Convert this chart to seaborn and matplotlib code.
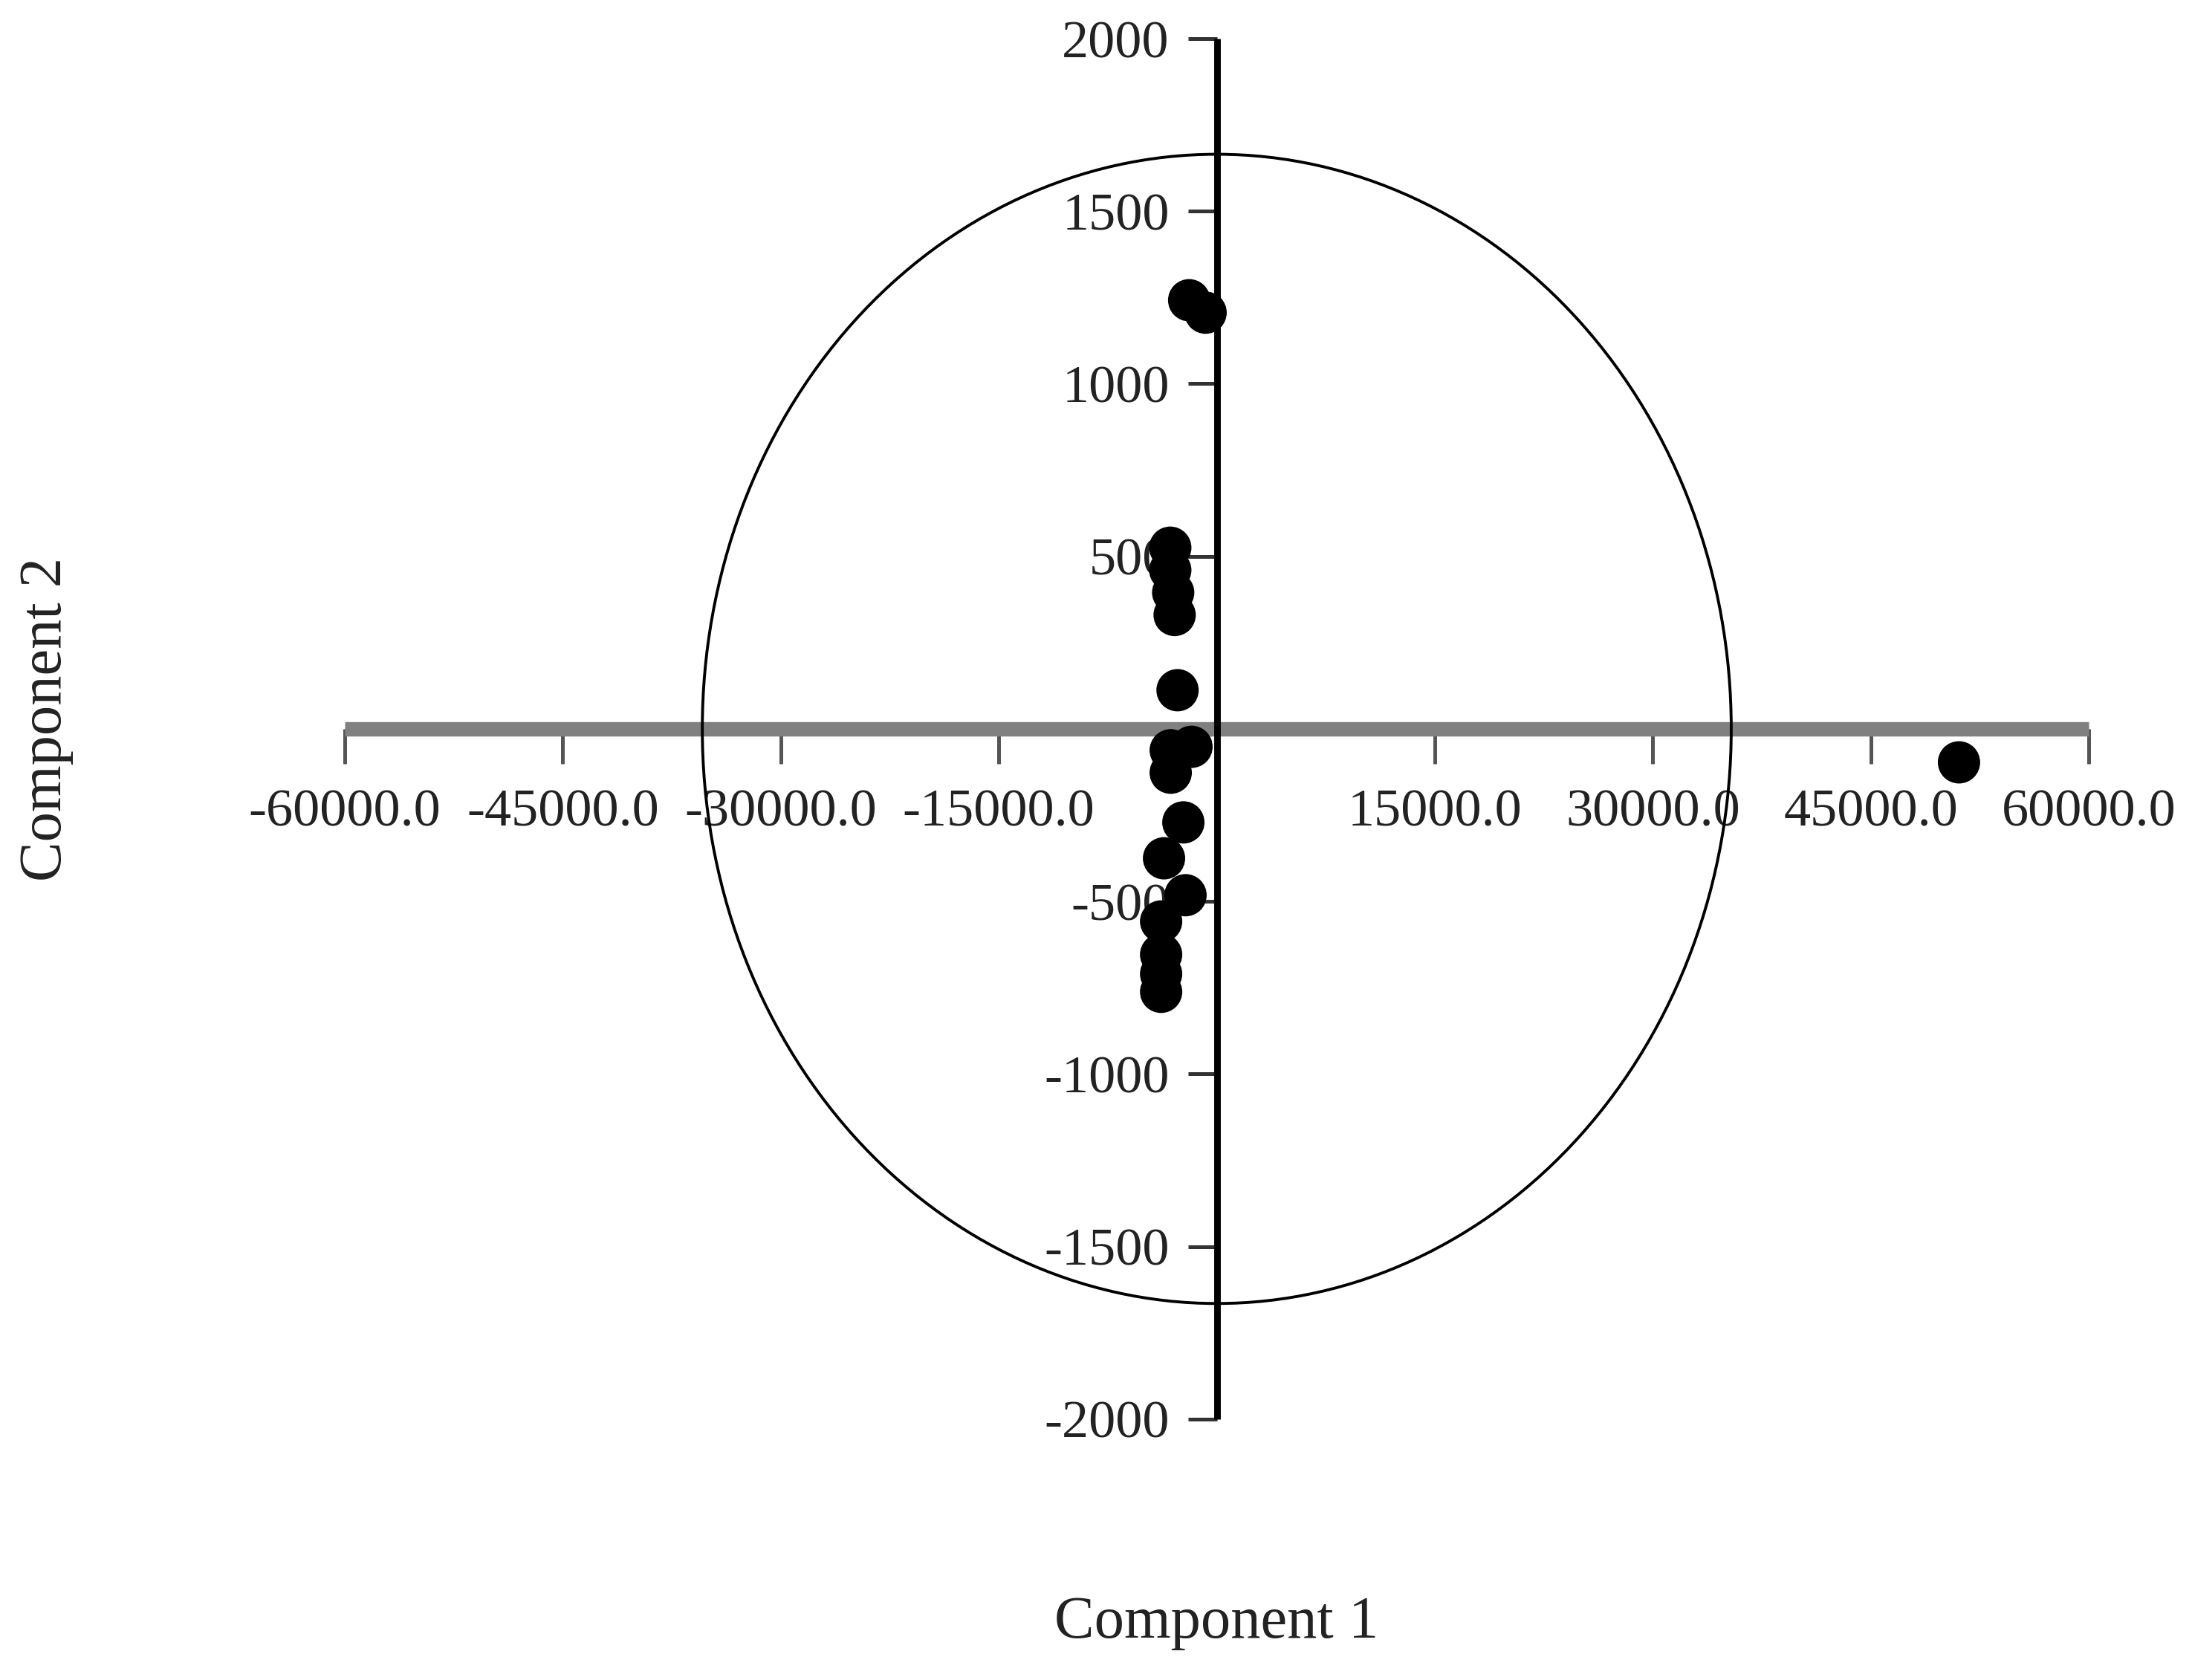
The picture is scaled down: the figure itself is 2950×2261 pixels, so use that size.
import matplotlib
matplotlib.use("Agg")
import matplotlib.pyplot as plt
from matplotlib.patches import Ellipse
from matplotlib.ticker import FuncFormatter
import seaborn as sns

# Scores
component_1 = [-1900, -770, -3200, -3200, -3000, -2900, -2700, -3170, -1740,
               -3170, -2300, -3630, -2150, -3830, -3830, -3830, -3830, 51070]
component_2 = [1242, 1206, 525, 460, 395, 330, 112, -62, -52,
               -127, -271, -375, -482, -558, -654, -710, -762, -97]

# Confidence ellipse half-axes
ellipse_rx = 35400
ellipse_ry = 1665

x_ticks = [-60000, -45000, -30000, -15000, 15000, 30000, 45000, 60000]
y_ticks = [-2000, -1500, -1000, -500, 500, 1000, 1500, 2000]

sns.set_style("white")
plt.rcParams["font.family"] = ["Liberation Serif", "DejaVu Serif"]
plt.rcParams["axes.unicode_minus"] = False

fig = plt.figure(figsize=(14.75, 11.305), dpi=200)
ax = fig.add_axes([0.1573, 0.1553, 0.7956, 0.8217])

# ellipse
ax.add_patch(Ellipse((0, 0), 2 * ellipse_rx, 2 * ellipse_ry,
                     fill=False, edgecolor="black", linewidth=1.4, zorder=3))

# scores
sns.scatterplot(x=component_1, y=component_2, color="black", s=420,
                edgecolor="none", linewidth=0, ax=ax, zorder=5)

ax.set_xlim(-60000, 60000)
ax.set_ylim(-2000, 2000)

# axes crossing at the origin
ax.spines["right"].set_visible(False)
ax.spines["top"].set_visible(False)
ax.spines["left"].set_position("zero")
ax.spines["bottom"].set_position("zero")
ax.spines["left"].set_bounds(-2000, 2000)
ax.spines["bottom"].set_bounds(-60000, 60000)
ax.spines["left"].set_color("black")
ax.spines["left"].set_linewidth(3.2)
ax.spines["left"].set_zorder(4)
ax.spines["bottom"].set_color("#808080")
ax.spines["bottom"].set_linewidth(7)
ax.spines["bottom"].set_zorder(2)
for side in ["left", "bottom"]:
    ax.spines[side].set_capstyle("butt")

ax.set_xticks(x_ticks)
ax.set_yticks(y_ticks)
ax.xaxis.set_major_formatter(FuncFormatter(lambda v, p: f"{v:.1f}"))
ax.yaxis.set_major_formatter(FuncFormatter(lambda v, p: f"{v:.0f}"))
ax.tick_params(axis="x", bottom=True, direction="out", length=17, width=1.8,
               color="#555555", pad=12, labelsize=26, labelcolor="#222222")
ax.tick_params(axis="y", left=True, direction="out", length=14, width=1.8,
               color="#333333", pad=9, labelsize=26, labelcolor="#222222")

ax.set_xlabel("Component 1", fontsize=29, color="#222222", va="center")
ax.xaxis.set_label_coords(0.5, -0.148)
ax.set_ylabel("Component 2", fontsize=29, color="#222222", va="center")
ax.yaxis.set_label_coords(-0.171, 0.507)

fig.savefig("out.png", dpi=200, facecolor="white")
